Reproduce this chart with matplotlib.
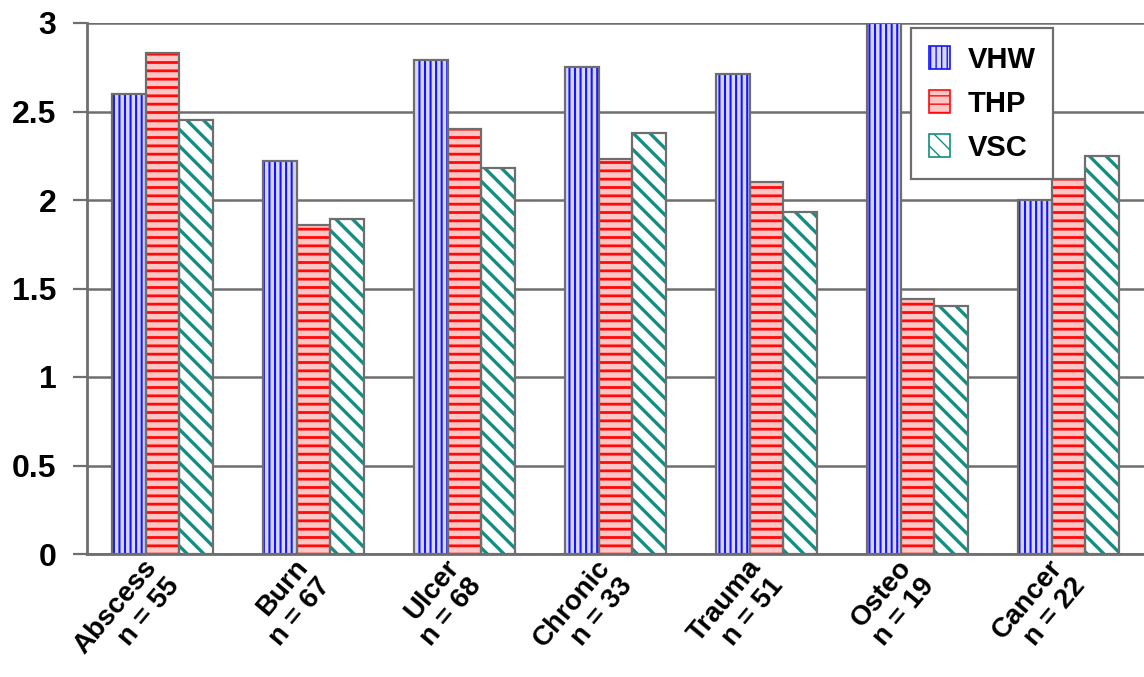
import matplotlib
matplotlib.use("Agg")
import matplotlib.pyplot as plt
import matplotlib.transforms as mtransforms
import numpy as np
from matplotlib.patches import Patch

plt.rcParams['font.family'] = ['Liberation Sans', 'DejaVu Sans']
plt.rcParams['font.weight'] = 'bold'

# data
categories = ["Abscess\nn = 55", "Burn\nn = 67", "Ulcer\nn = 68", "Chronic\nn = 33",
              "Trauma\nn = 51", "Osteo\nn = 19", "Cancer\nn = 22"]
series_names = ["VHW", "THP", "VSC"]
vhw = [2.60, 2.22, 2.79, 2.75, 2.71, 3.00, 2.00]
thp = [2.83, 1.86, 2.40, 2.23, 2.10, 1.44, 2.12]
vsc = [2.45, 1.89, 2.18, 2.38, 1.93, 1.40, 2.25]
y_ticks = [0, 0.5, 1, 1.5, 2, 2.5, 3]
y_tick_labels = ["0", "0.5", "1", "1.5", "2", "2.5", "3"]

# styles: (face, hatch colour, hatch, hatch linewidth)
styles = [
    ("#d8d8ff", "#1414ff", "|||", 1.5),
    ("#ffc6c6", "#ff0a0a", "--", 2.0),
    ("#ffffff", "#128e82", "\\\\", 2.4),
]
edge = "#6e6e6e"

fig = plt.figure(figsize=(11.44, 6.77), dpi=100)
ax = fig.add_axes([87 / 1144, 1 - 554 / 677, 1 - 87 / 1144, (554 - 23) / 677])

x = np.arange(len(categories))
width = 0.222
handles = []
for i, (vals, name) in enumerate(zip([vhw, thp, vsc], series_names)):
    face, hcol, hatch, hlw = styles[i]
    pos = x + (i - 1) * width
    ax.bar(pos, vals, width, color=face, linewidth=0, zorder=2)
    with plt.rc_context({'hatch.linewidth': hlw}):
        ax.bar(pos, vals, width, facecolor='none', edgecolor=hcol, hatch=hatch,
               linewidth=0, zorder=3)
    ax.bar(pos, vals, width, fill=False, edgecolor=edge, linewidth=1.6, zorder=4)
    with plt.rc_context({'hatch.linewidth': hlw}):
        handles.append(Patch(facecolor=face, edgecolor=hcol, hatch=hatch,
                             linewidth=1.2, label=name))

ax.set_xlim(-0.5, len(categories) - 0.5)
ax.set_ylim(0, 3)
ax.set_yticks(y_ticks)
ax.set_yticklabels(y_tick_labels, fontsize=23, fontweight='bold')
ax.set_xticks(x)
ax.set_xticklabels(categories, fontsize=20, fontweight='bold', rotation=50,
                   ha='right', rotation_mode='anchor', linespacing=1.15)
ax.tick_params(axis='x', length=0, pad=4)
ax.tick_params(axis='y', length=10, width=1.6, color=edge, pad=12)

# nudge the rotated category labels so they end under their group
shift = mtransforms.ScaledTranslation(-0.2, 0.05, fig.dpi_scale_trans)
for lab in ax.get_xticklabels():
    lab.set_transform(lab.get_transform() + shift)

ax.yaxis.grid(True, color=edge, linewidth=1.8, zorder=0)
ax.set_axisbelow(True)
for s in ['top', 'right']:
    ax.spines[s].set_visible(False)
for s in ['left', 'bottom']:
    ax.spines[s].set_color(edge)
    ax.spines[s].set_linewidth(2)
ax.spines['bottom'].set_zorder(5)

leg = ax.legend(handles=handles, loc='upper left',
                bbox_to_anchor=(911 / 1144, 1 - 28 / 677), bbox_transform=fig.transFigure,
                borderaxespad=0, fancybox=False, framealpha=1, edgecolor=edge,
                prop={'size': 21, 'weight': 'bold'}, handlelength=0.75,
                handleheight=0.8, handletextpad=0.6, labelspacing=0.55,
                borderpad=0.6)
leg.get_frame().set_linewidth(1.6)
leg.set_zorder(6)

fig.savefig("out.png", dpi=100, facecolor='white')
